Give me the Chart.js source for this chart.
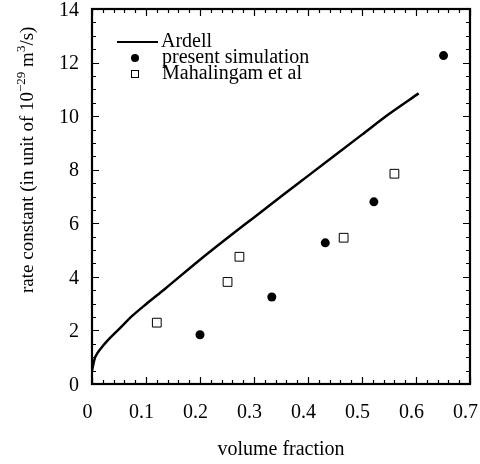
<!DOCTYPE html>
<html>
<head>
<meta charset="utf-8">
<script src="https://cdn.jsdelivr.net/npm/chart.js@4/dist/chart.umd.min.js"></script>
<style>
  html, body { margin: 0; padding: 0; background: #fff; }
  #wrap { width: 480px; height: 464px; position: relative; }
</style>
</head>
<body>
<div id="wrap"><canvas id="rateChart"></canvas></div>
<script>
// Ardell theory curve
const ardellX = [0, 0.005, 0.01, 0.02, 0.03, 0.05, 0.075, 0.1, 0.135, 0.2, 0.25, 0.3, 0.35, 0.4, 0.45, 0.5, 0.55, 0.605];
const ardellY = [0.5, 0.95, 1.15, 1.42, 1.65, 2.05, 2.55, 2.98, 3.55, 4.64, 5.44, 6.22, 7.0, 7.77, 8.54, 9.31, 10.08, 10.85];

// present simulation (filled circles)
const simX = [0.2, 0.333, 0.432, 0.522, 0.651];
const simY = [1.84, 3.25, 5.27, 6.8, 12.26];

// Mahalingam et al (open squares)
const mahX = [0.12, 0.251, 0.273, 0.466, 0.56];
const mahY = [2.29, 3.81, 4.75, 5.46, 7.85];

const xTickLabels = ["0", "0.1", "0.2", "0.3", "0.4", "0.5", "0.6", "0.7"];

const FONT = '"Liberation Serif", "DejaVu Serif", serif';
Chart.defaults.font.family = FONT;
Chart.defaults.color = "#000";

const toPoints = (xs, ys) => xs.map((x, i) => ({ x, y: ys[i] }));

// frame, inward ticks, axis titles and legend
const decorations = {
  id: "decorations",
  afterDatasetsDraw(chart) {
    const { ctx, chartArea: a, scales } = chart;
    const xs = scales.x, ys = scales.y;
    ctx.save();
    ctx.strokeStyle = "#000";

    // inward ticks on all four sides
    ctx.lineWidth = 1.2;
    for (let i = 0; i <= 35; i++) {
      const px = Math.round(xs.getPixelForValue(i * 0.02)) + 0.5;
      const len = i % 5 === 0 ? 7 : 4;
      ctx.beginPath();
      ctx.moveTo(px, a.bottom); ctx.lineTo(px, a.bottom - len);
      ctx.moveTo(px, a.top); ctx.lineTo(px, a.top + len);
      ctx.stroke();
    }
    for (let i = 0; i <= 28; i++) {
      const py = Math.round(ys.getPixelForValue(i * 0.5)) + 0.5;
      const len = i % 4 === 0 ? 7 : 4;
      ctx.beginPath();
      ctx.moveTo(a.left, py); ctx.lineTo(a.left + len, py);
      ctx.moveTo(a.right, py); ctx.lineTo(a.right - len, py);
      ctx.stroke();
    }

    // frame
    ctx.lineWidth = 2.2;
    ctx.strokeRect(a.left, a.top, a.right - a.left, a.bottom - a.top);

    // x title
    ctx.fillStyle = "#000";
    ctx.font = "20px " + FONT;
    ctx.textAlign = "center";
    ctx.textBaseline = "middle";
    ctx.fillText("volume fraction", (a.left + a.right) / 2, 450);

    // y title with superscripts
    ctx.save();
    ctx.translate(33, 293);
    ctx.rotate(-Math.PI / 2);
    ctx.textAlign = "left";
    ctx.textBaseline = "alphabetic";
    const parts = [
      ["rate constant (in unit of 10", false],
      ["\u221229", true],
      [" m", false],
      ["3", true],
      ["/s)", false],
    ];
    let tx = 0;
    parts.forEach(([t, sup]) => {
      ctx.font = (sup ? "13px " : "19px ") + FONT;
      ctx.fillText(t, tx, sup ? -8 : 0);
      tx += ctx.measureText(t).width;
    });
    ctx.restore();

    // legend
    const ds = chart.data.datasets;
    ctx.font = "20px " + FONT;
    ctx.textAlign = "left";
    ctx.textBaseline = "middle";
    ctx.lineWidth = 2;
    ctx.beginPath();
    ctx.moveTo(117, 42); ctx.lineTo(158, 42);
    ctx.stroke();
    ctx.fillText(ds[0].label, 161, 42);

    ctx.beginPath();
    ctx.arc(135, 58, 4, 0, Math.PI * 2);
    ctx.fill();
    ctx.fillText(ds[1].label, 162, 58);

    ctx.lineWidth = 1;
    ctx.strokeRect(131.5, 70.5, 7, 7);
    ctx.fillText(ds[2].label, 162, 74);

    ctx.restore();
  },
};

new Chart(document.getElementById("rateChart"), {
  type: "scatter",
  data: {
    datasets: [
      {
        label: "Ardell",
        data: toPoints(ardellX, ardellY),
        showLine: true,
        borderColor: "#000",
        borderWidth: 2.5,
        pointRadius: 0,
        cubicInterpolationMode: "monotone",
      },
      {
        label: "present simulation",
        data: toPoints(simX, simY),
        pointStyle: "circle",
        pointRadius: 4.5,
        backgroundColor: "#000",
        borderColor: "#000",
        borderWidth: 0,
      },
      {
        label: "Mahalingam et al",
        data: toPoints(mahX, mahY),
        pointStyle: "rect",
        pointRadius: 6.2,
        backgroundColor: "#fff",
        borderColor: "#000",
        borderWidth: 1,
      },
    ],
  },
  options: {
    responsive: true,
    maintainAspectRatio: false,
    animation: false,
    layout: { padding: { left: 0, right: 10, top: 9, bottom: 0 } },
    plugins: {
      legend: { display: false },
      tooltip: { enabled: false },
    },
    scales: {
      x: {
        type: "linear",
        min: 0,
        max: 0.7,
        grid: { display: false, drawTicks: false },
        border: { display: false },
        ticks: {
          stepSize: 0.1,
          padding: 17,
          maxRotation: 0,
          labelOffset: -4.5,
          font: { size: 20 },
          callback: (v) => xTickLabels[Math.round(v * 10)],
        },
        afterFit: (s) => {
          s.height = 80;
          s.paddingLeft = 0;
          s.paddingRight = 0;
        },
      },
      y: {
        min: 0,
        max: 14,
        grid: { display: false, drawTicks: false },
        border: { display: false },
        ticks: { stepSize: 2, padding: 13, labelOffset: 1.5, font: { size: 20 } },
        afterFit: (s) => {
          s.width = 92;
          s.paddingTop = 0;
          s.paddingBottom = 0;
        },
      },
    },
  },
  plugins: [decorations],
});
</script>
</body>
</html>
